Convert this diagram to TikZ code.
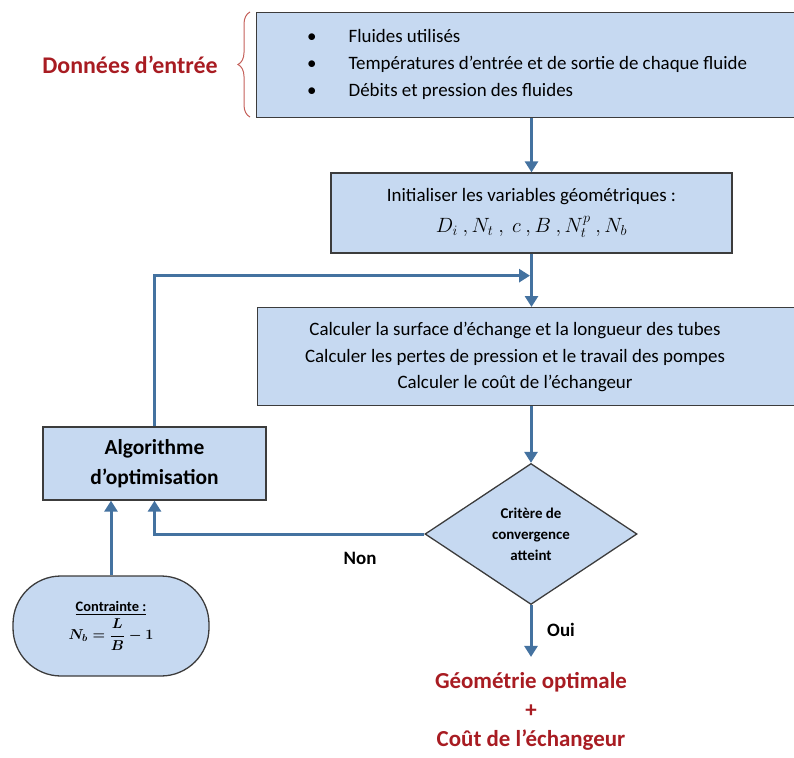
\documentclass[tikz,border=0pt]{standalone}
\usepackage{amsmath,amssymb}
\usepackage{fontspec}
\setmainfont{Carlito}
\usetikzlibrary{arrows.meta,shapes.geometric,decorations.pathreplacing}

\definecolor{boxfill}{RGB}{198,217,241}
\definecolor{boxline}{RGB}{60,60,60}
\definecolor{flow}{RGB}{68,114,160}
\definecolor{titre}{RGB}{168,28,34}
\definecolor{accolade}{RGB}{196,96,90}

\begin{document}
\begin{tikzpicture}[x=1bp,y=-1bp,
  boite/.style={draw=boxline,fill=boxfill,line width=1.3bp,inner sep=0pt},
  fleche/.style={draw=flow,line width=3bp,-{Triangle[width=13bp,length=11bp]}},
  txt/.style={font=\fontsize{19}{27}\selectfont,align=center,inner sep=0pt},
  gras/.style={font=\bfseries\fontsize{23}{29}\selectfont,text=titre,align=center,inner sep=0pt},
  etiq/.style={font=\bfseries\fontsize{19}{20}\selectfont,inner sep=0pt}]
\useasboundingbox (0,0) rectangle (794,758);

\node[boite,minimum width=540bp,minimum height=105bp,anchor=north west] (donnees) at (256,12) {};
\node[txt,anchor=west,align=left] (liste) at (307,64) {\begin{tabular}{@{}l@{\hspace{32bp}}l@{}}
\textbullet & Fluides utilisés\\
\textbullet & Températures d’entrée et de sortie de chaque fluide\\
\textbullet & Débits et pression des fluides
\end{tabular}};
\node[gras,font=\bfseries\fontsize{24}{29}\selectfont] (entree) at (130,65) {Données d’entrée};
\draw[accolade,line width=1bp,decorate,decoration={brace,amplitude=12bp}] (250,117) -- (250,12);

\node[boite,txt,minimum width=401bp,minimum height=80bp] (init) at (531.5,213) {Initialiser les variables géométriques :\\[4bp]
{\fontsize{21}{27}\selectfont$D_i\ ,N_t\ ,\ c\ ,B\ ,N_t^p\ ,N_b$}};

\node[boite,minimum width=545bp,minimum height=98bp,anchor=north west] (calc) at (257,307) {};
\node[txt] (calctxt) at (515,357) {Calculer la surface d’échange et la longueur des tubes\\
Calculer les pertes de pression et le travail des pompes\\
Calculer le coût de l’échangeur};

\node[boite,minimum width=223bp,minimum height=73bp,align=center,
  font=\bfseries\fontsize{21.5}{30}\selectfont] (algo) at (154.5,463.5) {Algorithme\\d’optimisation};

\node[boite,diamond,minimum width=212bp,minimum height=141bp,align=center,
  font=\bfseries\fontsize{15}{21}\selectfont] (critere) at (531,534) {Critère de\\convergence\\atteint};

\node[boite,rounded corners=48bp,minimum width=196bp,minimum height=100bp,align=center,
  font=\bfseries\fontsize{14.5}{17}\selectfont] (contrainte) at (111,626) {\underline{Contrainte :}\\[3bp]
{\boldmath$N_b=\dfrac{L}{B}-1$}};

\node[gras] (resultat) at (531,711) {Géométrie optimale\\+\\Coût de l’échangeur};
\node[etiq] (non) at (360,558) {Non};
\node[etiq] (oui) at (561,630) {Oui};

\path (init.south) ++(0,22) coordinate (jonction);
\draw[fleche] (donnees.south -| init.north) -- (init.north);
\draw[fleche] (init.south) -- (init.south |- calc.north);
\draw[fleche,shorten >=1.5bp] (algo.north) |- (jonction);
\draw[fleche] (calc.south -| critere.north) -- (critere.north);
\draw[fleche] (critere.west) -| (algo.south);
\draw[fleche] (contrainte.north) -- (contrainte.north |- algo.south);
\draw[fleche,shorten >=15bp] (critere.south) -- (resultat.north);
\end{tikzpicture}
\end{document}
